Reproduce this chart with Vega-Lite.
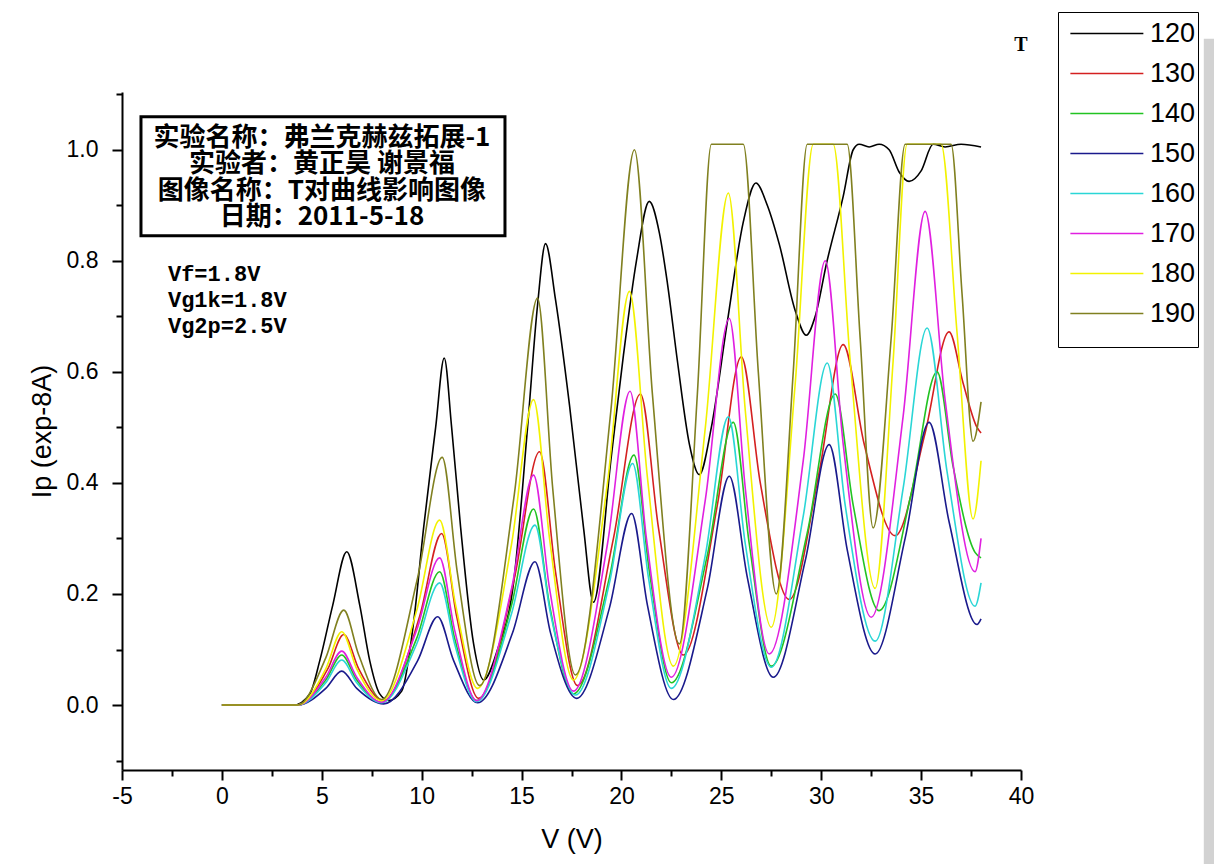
{
 "$schema": "https://vega.github.io/schema/vega-lite/v6.json",
 "width": 899, "height": 678,
 "autosize": {"type": "none"},
 "padding": {"left": 122, "top": 92, "right": 193, "bottom": 94},
 "background": "white",
 "config": {"view": {"stroke": null}, "font": "Liberation Sans"},
 "data": {"values": [
  {"T":"120","V":0,"I":0},{"T":"120","V":3.6,"I":0},{"T":"120","V":4.4,"I":0.02},{"T":"120","V":4.9,"I":0.08},{"T":"120","V":5.55,"I":0.18},{"T":"120","V":6.25,"I":0.276},{"T":"120","V":6.9,"I":0.18},{"T":"120","V":7.4,"I":0.08},{"T":"120","V":7.9,"I":0.02},{"T":"120","V":8.35,"I":0.008},
  {"T":"120","V":9.0,"I":0.025},{"T":"120","V":9.6,"I":0.15},{"T":"120","V":10.1,"I":0.32},{"T":"120","V":10.7,"I":0.5},{"T":"120","V":11.13,"I":0.625},{"T":"120","V":11.5,"I":0.5},{"T":"120","V":11.95,"I":0.32},{"T":"120","V":12.6,"I":0.11},{"T":"120","V":13.1,"I":0.045},
  {"T":"120","V":13.8,"I":0.1},{"T":"120","V":14.6,"I":0.22},{"T":"120","V":15.3,"I":0.5},{"T":"120","V":15.8,"I":0.72},{"T":"120","V":16.2,"I":0.831},{"T":"120","V":16.7,"I":0.73},{"T":"120","V":17.4,"I":0.54},{"T":"120","V":18.1,"I":0.32},{"T":"120","V":18.6,"I":0.185},
  {"T":"120","V":19.5,"I":0.45},{"T":"120","V":20.1,"I":0.63},{"T":"120","V":20.75,"I":0.8},{"T":"120","V":21.39,"I":0.907},{"T":"120","V":21.9,"I":0.85},{"T":"120","V":22.3,"I":0.76},{"T":"120","V":22.8,"I":0.62},{"T":"120","V":23.4,"I":0.47},{"T":"120","V":23.9,"I":0.415},
  {"T":"120","V":24.5,"I":0.5},{"T":"120","V":25.3,"I":0.69},{"T":"120","V":26.1,"I":0.87},{"T":"120","V":26.73,"I":0.94},{"T":"120","V":27.3,"I":0.9},{"T":"120","V":27.9,"I":0.83},{"T":"120","V":28.7,"I":0.71},{"T":"120","V":29.25,"I":0.666},
  {"T":"120","V":29.7,"I":0.7},{"T":"120","V":30.27,"I":0.796},{"T":"120","V":31.1,"I":0.916},{"T":"120","V":31.6,"I":1.0},{"T":"120","V":31.9,"I":1.01},{"T":"120","V":32.4,"I":1.005},{"T":"120","V":32.9,"I":1.01},{"T":"120","V":33.4,"I":1.0},{"T":"120","V":33.9,"I":0.96},{"T":"120","V":34.4,"I":0.943},{"T":"120","V":35.0,"I":0.962},{"T":"120","V":35.6,"I":1.01},{"T":"120","V":36.2,"I":1.005},{"T":"120","V":37.0,"I":1.01},{"T":"120","V":38,"I":1.005},

  {"T":"130","V":0,"I":0},{"T":"130","V":3.8,"I":0},{"T":"130","V":5.3,"I":0.065},{"T":"130","V":6.1,"I":0.127},{"T":"130","V":6.85,"I":0.065},{"T":"130","V":8.1,"I":0.008},
  {"T":"130","V":9.9,"I":0.16},{"T":"130","V":11.0,"I":0.309},{"T":"130","V":11.75,"I":0.16},{"T":"130","V":12.85,"I":0.012},
  {"T":"130","V":14.65,"I":0.23},{"T":"130","V":15.9,"I":0.456},{"T":"130","V":16.7,"I":0.24},{"T":"130","V":17.8,"I":0.035},
  {"T":"130","V":19.6,"I":0.3},{"T":"130","V":20.95,"I":0.56},{"T":"130","V":21.85,"I":0.32},{"T":"130","V":23.1,"I":0.09},
  {"T":"130","V":24.8,"I":0.36},{"T":"130","V":26.0,"I":0.627},{"T":"130","V":26.95,"I":0.4},{"T":"130","V":28.4,"I":0.19},
  {"T":"130","V":29.9,"I":0.42},{"T":"130","V":31.1,"I":0.649},{"T":"130","V":32.15,"I":0.47},{"T":"130","V":33.7,"I":0.305},
  {"T":"130","V":35.2,"I":0.49},{"T":"130","V":36.4,"I":0.672},{"T":"130","V":37.1,"I":0.58},{"T":"130","V":37.8,"I":0.5},{"T":"130","V":38,"I":0.49},

  {"T":"140","V":0,"I":0},{"T":"140","V":3.8,"I":0},{"T":"140","V":5.2,"I":0.045},{"T":"140","V":6.0,"I":0.09},{"T":"140","V":6.75,"I":0.045},{"T":"140","V":8.0,"I":0.005},
  {"T":"140","V":9.75,"I":0.12},{"T":"140","V":10.9,"I":0.24},{"T":"140","V":11.65,"I":0.12},{"T":"140","V":12.75,"I":0.008},
  {"T":"140","V":14.5,"I":0.18},{"T":"140","V":15.6,"I":0.353},{"T":"140","V":16.4,"I":0.18},{"T":"140","V":17.6,"I":0.02},
  {"T":"140","V":19.4,"I":0.23},{"T":"140","V":20.63,"I":0.45},{"T":"140","V":21.4,"I":0.24},{"T":"140","V":22.5,"I":0.04},
  {"T":"140","V":24.3,"I":0.27},{"T":"140","V":25.6,"I":0.509},{"T":"140","V":26.4,"I":0.29},{"T":"140","V":27.5,"I":0.07},
  {"T":"140","V":29.3,"I":0.31},{"T":"140","V":30.7,"I":0.56},{"T":"140","V":31.6,"I":0.36},{"T":"140","V":32.9,"I":0.17},
  {"T":"140","V":34.5,"I":0.38},{"T":"140","V":35.8,"I":0.6},{"T":"140","V":36.6,"I":0.43},{"T":"140","V":37.7,"I":0.275},{"T":"140","V":38,"I":0.265},

  {"T":"150","V":0,"I":0},{"T":"150","V":3.8,"I":0},{"T":"150","V":5.2,"I":0.03},{"T":"150","V":6.0,"I":0.061},{"T":"150","V":6.75,"I":0.03},{"T":"150","V":8.1,"I":0.002},
  {"T":"150","V":9.8,"I":0.08},{"T":"150","V":10.8,"I":0.159},{"T":"150","V":11.6,"I":0.08},{"T":"150","V":12.8,"I":0.004},
  {"T":"150","V":14.55,"I":0.13},{"T":"150","V":15.67,"I":0.258},{"T":"150","V":16.45,"I":0.13},{"T":"150","V":17.76,"I":0.012},
  {"T":"150","V":19.4,"I":0.175},{"T":"150","V":20.51,"I":0.345},{"T":"150","V":21.3,"I":0.18},{"T":"150","V":22.6,"I":0.01},
  {"T":"150","V":24.3,"I":0.21},{"T":"150","V":25.4,"I":0.412},{"T":"150","V":26.3,"I":0.23},{"T":"150","V":27.6,"I":0.05},
  {"T":"150","V":29.2,"I":0.26},{"T":"150","V":30.4,"I":0.469},{"T":"150","V":31.3,"I":0.28},{"T":"150","V":32.7,"I":0.092},
  {"T":"150","V":34.2,"I":0.3},{"T":"150","V":35.4,"I":0.509},{"T":"150","V":36.4,"I":0.33},{"T":"150","V":37.8,"I":0.145},{"T":"150","V":38,"I":0.155},

  {"T":"160","V":0,"I":0},{"T":"160","V":3.8,"I":0},{"T":"160","V":5.2,"I":0.04},{"T":"160","V":6.0,"I":0.081},{"T":"160","V":6.75,"I":0.04},{"T":"160","V":8.0,"I":0.004},
  {"T":"160","V":9.75,"I":0.11},{"T":"160","V":10.9,"I":0.22},{"T":"160","V":11.65,"I":0.11},{"T":"160","V":12.75,"I":0.006},
  {"T":"160","V":14.5,"I":0.165},{"T":"160","V":15.67,"I":0.324},{"T":"160","V":16.45,"I":0.165},{"T":"160","V":17.7,"I":0.018},
  {"T":"160","V":19.4,"I":0.22},{"T":"160","V":20.56,"I":0.435},{"T":"160","V":21.35,"I":0.23},{"T":"160","V":22.5,"I":0.03},
  {"T":"160","V":24.2,"I":0.27},{"T":"160","V":25.35,"I":0.519},{"T":"160","V":26.2,"I":0.29},{"T":"160","V":27.5,"I":0.068},
  {"T":"160","V":29.1,"I":0.34},{"T":"160","V":30.3,"I":0.616},{"T":"160","V":31.2,"I":0.36},{"T":"160","V":32.7,"I":0.115},
  {"T":"160","V":34.1,"I":0.39},{"T":"160","V":35.3,"I":0.679},{"T":"160","V":36.3,"I":0.42},{"T":"160","V":37.7,"I":0.178},{"T":"160","V":38,"I":0.22},

  {"T":"170","V":0,"I":0},{"T":"170","V":3.8,"I":0},{"T":"170","V":5.2,"I":0.05},{"T":"170","V":6.0,"I":0.097},{"T":"170","V":6.75,"I":0.05},{"T":"170","V":8.0,"I":0.005},
  {"T":"170","V":9.75,"I":0.135},{"T":"170","V":10.9,"I":0.265},{"T":"170","V":11.65,"I":0.135},{"T":"170","V":12.75,"I":0.008},
  {"T":"170","V":14.5,"I":0.21},{"T":"170","V":15.6,"I":0.414},{"T":"170","V":16.4,"I":0.21},{"T":"170","V":17.6,"I":0.025},
  {"T":"170","V":19.3,"I":0.29},{"T":"170","V":20.43,"I":0.565},{"T":"170","V":21.25,"I":0.3},{"T":"170","V":22.5,"I":0.05},
  {"T":"170","V":24.2,"I":0.37},{"T":"170","V":25.4,"I":0.696},{"T":"170","V":26.2,"I":0.39},{"T":"170","V":27.4,"I":0.092},
  {"T":"170","V":29.1,"I":0.44},{"T":"170","V":30.2,"I":0.8},{"T":"170","V":31.1,"I":0.47},{"T":"170","V":32.5,"I":0.158},
  {"T":"170","V":34.1,"I":0.52},{"T":"170","V":35.2,"I":0.889},{"T":"170","V":36.2,"I":0.55},{"T":"170","V":37.7,"I":0.24},{"T":"170","V":38,"I":0.3},

  {"T":"180","V":0,"I":0},{"T":"180","V":3.8,"I":0},{"T":"180","V":5.2,"I":0.065},{"T":"180","V":6.0,"I":0.132},{"T":"180","V":6.75,"I":0.065},{"T":"180","V":8.0,"I":0.008},
  {"T":"180","V":9.75,"I":0.17},{"T":"180","V":10.9,"I":0.333},{"T":"180","V":11.7,"I":0.18},{"T":"180","V":12.8,"I":0.03},
  {"T":"180","V":14.5,"I":0.29},{"T":"180","V":15.6,"I":0.55},{"T":"180","V":16.4,"I":0.3},{"T":"180","V":17.6,"I":0.045},
  {"T":"180","V":19.3,"I":0.4},{"T":"180","V":20.4,"I":0.745},{"T":"180","V":21.3,"I":0.41},{"T":"180","V":22.6,"I":0.07},
  {"T":"180","V":24.2,"I":0.5},{"T":"180","V":25.35,"I":0.922},{"T":"180","V":26.2,"I":0.53},{"T":"180","V":27.5,"I":0.14},
  {"T":"180","V":28.7,"I":0.58},{"T":"180","V":29.6,"I":1.01},{"T":"180","V":30.6,"I":1.01},{"T":"180","V":31.45,"I":0.62},{"T":"180","V":32.7,"I":0.21},
  {"T":"180","V":33.6,"I":0.62},{"T":"180","V":34.3,"I":1.01},{"T":"180","V":36.0,"I":1.01},{"T":"180","V":36.8,"I":0.67},{"T":"180","V":37.6,"I":0.335},{"T":"180","V":38,"I":0.44},

  {"T":"190","V":0,"I":0},{"T":"190","V":3.8,"I":0},{"T":"190","V":5.2,"I":0.085},{"T":"190","V":6.1,"I":0.171},{"T":"190","V":6.85,"I":0.09},{"T":"190","V":8.0,"I":0.01},
  {"T":"190","V":9.8,"I":0.23},{"T":"190","V":11.03,"I":0.446},{"T":"190","V":11.78,"I":0.24},{"T":"190","V":12.9,"I":0.035},
  {"T":"190","V":14.64,"I":0.38},{"T":"190","V":15.8,"I":0.733},{"T":"190","V":16.56,"I":0.39},{"T":"190","V":17.7,"I":0.054},
  {"T":"190","V":19.47,"I":0.53},{"T":"190","V":20.65,"I":1.0},{"T":"190","V":21.55,"I":0.56},{"T":"190","V":22.9,"I":0.11},
  {"T":"190","V":23.8,"I":0.56},{"T":"190","V":24.5,"I":1.01},{"T":"190","V":26.1,"I":1.01},{"T":"190","V":26.85,"I":0.6},{"T":"190","V":27.75,"I":0.2},
  {"T":"190","V":28.6,"I":0.6},{"T":"190","V":29.3,"I":1.01},{"T":"190","V":31.3,"I":1.01},{"T":"190","V":31.95,"I":0.66},{"T":"190","V":32.6,"I":0.319},
  {"T":"190","V":33.5,"I":0.66},{"T":"190","V":34.2,"I":1.01},{"T":"190","V":36.5,"I":1.01},{"T":"190","V":37.05,"I":0.74},{"T":"190","V":37.6,"I":0.475},{"T":"190","V":38,"I":0.546}
 ]},
 "layer": [
  {
   "data": {"values": [{}]},
   "mark": {"type": "rect", "fill": "#d2d2d2", "stroke": null},
   "encoding": {
    "x": {"datum": 49.15, "type": "quantitative"}, "x2": {"datum": 49.7},
    "y": {"datum": 1.2, "type": "quantitative"}, "y2": {"datum": -0.3}
   }
  },
  {
   "mark": {"type": "line", "interpolate": "monotone", "strokeWidth": 1.6},
   "encoding": {
    "x": {"field": "V", "type": "quantitative",
      "scale": {"domain": [-5, 40], "nice": false, "zero": false},
      "axis": {"values": [-5,-2.5,0,2.5,5,7.5,10,12.5,15,17.5,20,22.5,25,27.5,30,32.5,35,37.5,40],
        "labelExpr": "datum.value % 5 === 0 ? '' + datum.value : ''",
        "tickSize": {"condition": {"test": "datum.value % 5 === 0", "value": 10}, "value": 6},
        "tickWidth": 2, "tickColor": "black", "domainColor": "black", "domainWidth": 2,
        "labelFontSize": 23, "labelColor": "black", "labelPadding": 5, "labelFlush": false, "labelOverlap": false,
        "grid": false, "title": "V (V)", "titleFontSize": 27, "titleFontWeight": "normal", "titleColor": "black", "titlePadding": 18}},
    "y": {"field": "I", "type": "quantitative",
      "scale": {"domain": [-0.117, 1.104], "nice": false, "zero": false},
      "axis": {"values": [-0.1,0,0.1,0.2,0.3,0.4,0.5,0.6,0.7,0.8,0.9,1.0,1.1],
        "labelExpr": "round(datum.value*10) % 2 === 0 ? format(datum.value, '.1f') : ''",
        "tickSize": {"condition": {"test": "round(datum.value*10) % 2 === 0", "value": 10}, "value": 6},
        "tickWidth": 2, "tickColor": "black", "domainColor": "black", "domainWidth": 2,
        "labelFontSize": 23, "labelColor": "black", "labelPadding": 14, "labelOverlap": false, "labelFlush": false,
        "grid": false, "title": "Ip (exp-8A)", "titleFontSize": 27, "titleFontWeight": "normal", "titleColor": "black", "titlePadding": 10}},
    "color": {"field": "T", "type": "nominal",
      "scale": {"domain": ["120","130","140","150","160","170","180","190"],
                "range": ["#000000","#d42020","#22c322","#1a1a8c","#2ad6d6","#e020e0","#f2f200","#808020"]},
      "legend": {"orient": "none", "legendX": 936, "legendY": -80,
        "title": ".", "titleOrient": "bottom", "titleColor": "white", "titleFontSize": 12, "titlePadding": 7,
        "symbolType": "M-0.5,0H3.5", "symbolSize": 1332, "symbolStrokeWidth": 1.6,
        "labelExpr": "datum.label + '\u2003\u2003'",
        "labelFontSize": 27, "labelColor": "black", "labelFont": "Liberation Sans", "labelOffset": 51,
        "strokeColor": "black", "fillColor": "white", "padding": 2, "rowPadding": 7}}
   }
  },
  {
   "data": {"values": [{}]},
   "mark": {"type": "rect", "fill": "white", "stroke": "black", "strokeWidth": 3},
   "encoding": {
    "x": {"datum": -4.05, "type": "quantitative"}, "x2": {"datum": 14.17},
    "y": {"datum": 1.0595, "type": "quantitative"}, "y2": {"datum": 0.845}
   }
  },
  {
   "data": {"values": [{}]},
   "mark": {"type": "text", "text": ["实验名称：弗兰克赫兹拓展-1", "实验者：黄正昊 谢景福", "图像名称：T对曲线影响图像", "日期：2011-5-18"],
     "lineHeight": 26.5, "font": "Noto Sans CJK SC", "fontWeight": "bold", "fontSize": 26, "align": "center", "baseline": "middle", "color": "black"},
   "encoding": {"x": {"datum": 5.01, "type": "quantitative"}, "y": {"datum": 1.022, "type": "quantitative"}}
  },
  {
   "data": {"values": [{}]},
   "mark": {"type": "text", "text": ["Vf=1.8V", "Vg1k=1.8V", "Vg2p=2.5V"],
     "lineHeight": 26, "font": "Liberation Mono", "fontWeight": "bold", "fontSize": 22, "align": "left", "baseline": "middle", "color": "black"},
   "encoding": {"x": {"datum": -2.7, "type": "quantitative"}, "y": {"datum": 0.777, "type": "quantitative"}}
  },
  {
   "data": {"values": [{}]},
   "mark": {"type": "text", "text": "T", "font": "Liberation Serif", "fontWeight": "bold", "fontSize": 20, "align": "center", "baseline": "middle", "color": "black"},
   "encoding": {"x": {"datum": 40.0, "type": "quantitative"}, "y": {"datum": 1.189, "type": "quantitative"}}
  }
 ]
}
